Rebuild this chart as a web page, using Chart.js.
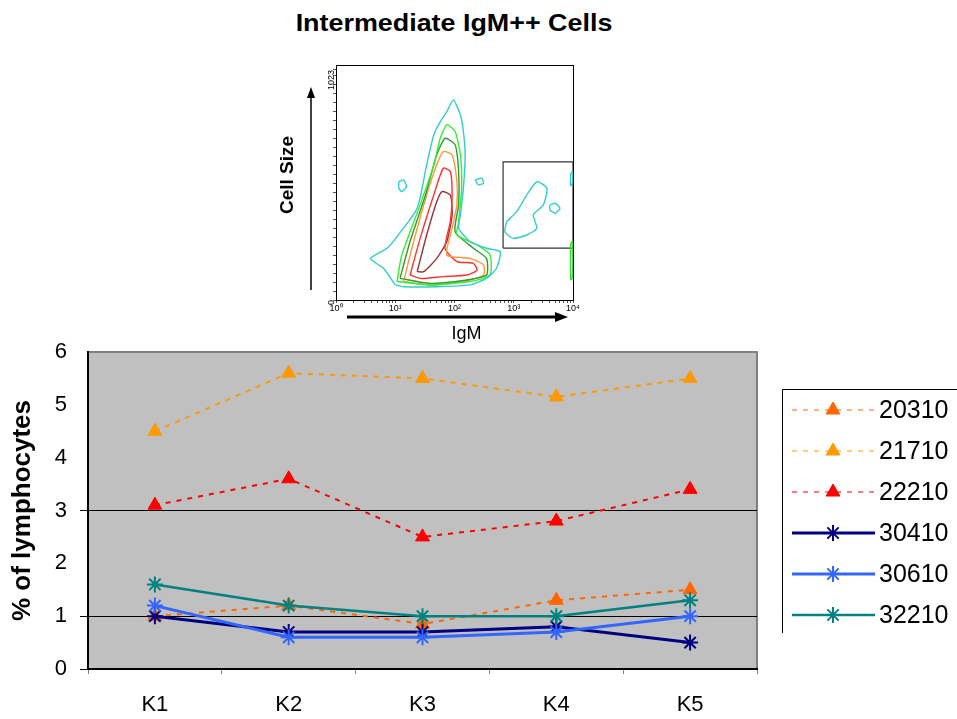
<!DOCTYPE html>
<html>
<head>
<meta charset="utf-8">
<script src="https://cdn.jsdelivr.net/npm/chart.js@4.4.1/dist/chart.umd.min.js"></script>
<style>
  html, body { margin: 0; padding: 0; background: #fff; }
  body { width: 957px; height: 719px; position: relative; overflow: hidden; font-family: "Liberation Sans", Arial, sans-serif; }
  #title { position: absolute; left: 0; width: 908px; top: 9px; text-align: center; font-weight: bold; font-size: 24px; transform: scaleX(1.12); }
  #main { position: absolute; left: 0; top: 0; }
  #facs { position: absolute; left: 250px; top: 55px; }
</style>
</head>
<body>
<div id="title">Intermediate IgM++ Cells</div>
<canvas id="main" width="957" height="719"></canvas>
<canvas id="facs" width="350" height="290"></canvas>
<script>
// line chart values (% of lymphocytes)
const categories = ['K1', 'K2', 'K3', 'K4', 'K5'];
const v20310 = [1.0, 1.2, 0.85, 1.3, 1.5];
const v21710 = [4.5, 5.6, 5.5, 5.15, 5.5];
const v22210 = [3.1, 3.6, 2.5, 2.8, 3.4];
const v30410 = [1.0, 0.7, 0.7, 0.8, 0.5];
const v30610 = [1.2, 0.6, 0.6, 0.7, 1.0];
const v32210 = [1.6, 1.2, 1.0, 1.0, 1.3];

// flow plot: x in decades of IgM, y = cell size channel
const facsXLabels = ['10\u2070', '10\u00b9', '10\u00b2', '10\u00b3', '10\u2074'];
const facsYLabels = ['0', '1023'];
const cCyan = [[1.0,67],[0.8,141],[0.58,185],[0.86,230],[1.03,282],[1.37,408],[1.53,601],[1.65,734],[1.76,793],[1.87,838],[1.98,890],[2.1,823],[2.15,749],[2.18,645],[2.15,497],[2.1,378],[2.07,319],[2.26,260],[2.54,230],[2.77,215],[2.71,141],[2.54,96],[2.26,67],[1.7,59],[1.14,59],[1.0,67]];
const cGreen = [[1.03,82],[1.11,200],[1.42,423],[1.65,601],[1.76,719],[1.87,779],[2.01,749],[2.1,645],[2.12,497],[2.07,349],[2.04,289],[2.38,245],[2.6,200],[2.6,111],[2.26,82],[1.59,67],[1.03,82]];
const cDarkGreen = [[1.08,96],[1.25,260],[1.51,467],[1.7,645],[1.84,719],[2.01,690],[2.07,571],[2.07,423],[2.01,304],[2.32,230],[2.54,185],[2.54,111],[2.21,89],[1.59,74],[1.08,96]];
const cOrange = [[1.14,82],[1.31,260],[1.53,467],[1.7,601],[1.81,660],[1.96,645],[2.04,526],[2.04,423],[1.96,319],[1.87,200],[2.26,185],[2.49,156],[2.49,111],[2.15,82],[1.59,67],[1.14,82]];
const cRed = [[1.25,111],[1.42,274],[1.65,467],[1.81,586],[1.93,571],[1.96,467],[1.93,349],[1.84,230],[2.04,171],[2.32,163],[2.38,133],[2.21,111],[1.81,104],[1.42,96],[1.25,111]];
const cDarkRed = [[1.37,126],[1.53,289],[1.7,437],[1.79,482],[1.93,467],[1.96,378],[1.87,260],[1.7,185],[1.48,126],[1.37,126]];
const cGateBlob = [[2.88,349],[3.05,393],[3.22,467],[3.39,526],[3.56,497],[3.5,423],[3.33,378],[3.39,319],[3.22,289],[2.99,274],[2.85,304],[2.88,349]];
const cGateDot = [[3.61,423],[3.7,430],[3.78,408],[3.7,386],[3.61,401],[3.61,423]];
const cLeftDot = [[1.06,526],[1.14,534],[1.19,504],[1.11,482],[1.06,497],[1.06,526]];
const cMidDot = [[2.35,534],[2.46,541],[2.49,519],[2.4,512],[2.35,534]];
const cEdgeHigh = [[3.96,560],[3.99,570],[3.99,520],[3.96,510],[3.96,560]];
const cEdgeLow = [[3.96,250],[3.99,260],[3.99,100],[3.96,90],[3.96,250]];
const gate = [[2.82,231],[4,231],[4,614],[2.82,614],[2.82,231]];

const fam = '"Liberation Sans", Arial, sans-serif';

const plotBg = {
  id: 'plotBg',
  beforeDraw(chart) {
    const { ctx, chartArea: a } = chart;
    ctx.save();
    ctx.fillStyle = '#C0C0C0';
    ctx.fillRect(a.left, a.top, a.right - a.left, a.bottom - a.top);
    ctx.strokeStyle = '#808080';
    ctx.lineWidth = 2;
    ctx.beginPath();
    ctx.moveTo(a.left, a.top);
    ctx.lineTo(a.right, a.top);
    ctx.lineTo(a.right, a.bottom);
    ctx.stroke();
    ctx.restore();
  }
};

const legendBox = {
  id: 'legendBox',
  afterDraw(chart) {
    const ctx = chart.ctx;
    ctx.save();
    ctx.strokeStyle = '#000';
    ctx.lineWidth = 1;
    ctx.beginPath();
    ctx.moveTo(782.5, 633);
    ctx.lineTo(782.5, 389.5);
    ctx.lineTo(960, 389.5);
    ctx.stroke();
    chart.data.datasets.forEach((ds, i) => {
      const y = 410 + i * 41;
      ctx.strokeStyle = ds.borderColor;
      ctx.lineWidth = ds.legendWidth;
      ctx.setLineDash(ds.borderDash || []);
      ctx.beginPath();
      ctx.moveTo(792, y);
      ctx.lineTo(875, y);
      ctx.stroke();
      ctx.setLineDash([]);
      ctx.fillStyle = ds.pointBackgroundColor;
      ctx.strokeStyle = ds.pointBorderColor;
      ctx.lineWidth = ds.pointBorderWidth;
      Chart.helpers.drawPoint(ctx, { pointStyle: ds.pointStyle, radius: ds.pointRadius, rotation: 0, borderWidth: ds.pointBorderWidth }, 833, y);
      ctx.fillStyle = '#000';
      ctx.font = '25px ' + fam;
      ctx.textAlign = 'left';
      ctx.textBaseline = 'middle';
      ctx.fillText(ds.label, 879, y + 1);
    });
    ctx.restore();
  }
};

function dashed(label, data, color, order) {
  return {
    label, data, order,
    borderColor: color, borderWidth: 2, borderDash: [5, 6], legendWidth: 1,
    pointStyle: 'triangle', pointRadius: 8,
    pointBackgroundColor: color, pointBorderColor: color, pointBorderWidth: 1
  };
}
function solid(label, data, color, width, order) {
  return {
    label, data, order,
    borderColor: color, borderWidth: width, legendWidth: width,
    pointStyle: 'star', pointRadius: 8,
    pointBackgroundColor: color, pointBorderColor: color, pointBorderWidth: 2
  };
}

const keyTicks = [0, 1, 3];

new Chart(document.getElementById('main'), {
  type: 'line',
  data: {
    labels: categories,
    datasets: [
      dashed('20310', v20310, '#FF6600', 6),
      dashed('21710', v21710, '#FF9900', 5),
      dashed('22210', v22210, '#FF0000', 4),
      solid('30410', v30410, '#000080', 3, 3),
      solid('30610', v30610, '#3366FF', 3, 2),
      solid('32210', v32210, '#008080', 2.5, 1)
    ]
  },
  options: {
    responsive: false,
    animation: false,
    layout: { padding: { top: 352, right: 200, bottom: 0, left: 0 } },
    plugins: { legend: { display: false }, tooltip: { enabled: false } },
    scales: {
      x: {
        offset: true,
        grid: { offset: true, drawOnChartArea: false, tickLength: 5, color: '#808080' },
        border: { color: '#000', width: 2 },
        ticks: { color: '#000', font: { size: 22, family: fam }, padding: 18 },
        afterFit: s => { s.height = 50; }
      },
      y: {
        min: 0, max: 6,
        ticks: { stepSize: 1, color: '#000', font: { size: 22, family: fam }, padding: 13 },
        grid: {
          color: c => (c.tick && (c.tick.value === 1 || c.tick.value === 3)) ? '#000' : 'rgba(0,0,0,0)',
          tickColor: c => (c.tick && keyTicks.includes(c.tick.value)) ? '#000' : 'rgba(0,0,0,0)',
          tickLength: 8, lineWidth: 1
        },
        border: { color: '#000', width: 2 },
        title: { display: true, text: '% of lymphocytes', color: '#000', font: { size: 26, weight: 'bold', family: fam }, padding: { top: 7 } },
        afterFit: s => { s.width = 88; }
      }
    }
  },
  plugins: [plotBg, legendBox]
});

// flow cytometry contour plot
const facsDeco = {
  id: 'facsDeco',
  afterDraw(chart) {
    const { ctx, chartArea: a } = chart;
    ctx.save();
    ctx.strokeStyle = '#000';
    ctx.lineWidth = 1;
    ctx.strokeRect(a.left + 0.5, a.top + 0.5, a.right - a.left, a.bottom - a.top);
    // vertical arrow
    const ax = a.left - 25;
    ctx.lineWidth = 1.5;
    ctx.beginPath();
    ctx.moveTo(ax, a.bottom - 10);
    ctx.lineTo(ax, a.top + 30);
    ctx.stroke();
    ctx.fillStyle = '#000';
    ctx.beginPath();
    ctx.moveTo(ax, a.top + 22);
    ctx.lineTo(ax - 4, a.top + 33);
    ctx.lineTo(ax + 4, a.top + 33);
    ctx.closePath();
    ctx.fill();
    // horizontal arrow
    const ay = a.bottom + 17;
    ctx.lineWidth = 3;
    ctx.beginPath();
    ctx.moveTo(a.left + 11, ay);
    ctx.lineTo(a.right - 16, ay);
    ctx.stroke();
    ctx.beginPath();
    ctx.moveTo(a.right - 5, ay);
    ctx.lineTo(a.right - 18, ay - 5);
    ctx.lineTo(a.right - 18, ay + 5);
    ctx.closePath();
    ctx.fill();
    // axis labels
    ctx.textAlign = 'center';
    ctx.textBaseline = 'middle';
    ctx.font = '18px ' + fam;
    ctx.fillText('IgM', (a.left + a.right) / 2 + 12, a.bottom + 34);
    ctx.translate(a.left - 48, a.top + 110);
    ctx.rotate(-Math.PI / 2);
    ctx.font = 'bold 19px ' + fam;
    ctx.fillText('Cell Size', 0, 0);
    ctx.restore();
  }
};

function contour(pts, color) {
  return {
    data: pts.map(p => ({ x: p[0], y: p[1] })),
    showLine: true, borderColor: color, borderWidth: 1.4, tension: 0.2,
    pointRadius: 0, fill: false
  };
}

const xMinor = [];
for (let d = 0; d < 4; d++) {
  xMinor.push(d);
  for (let m = 2; m < 10; m++) xMinor.push(d + Math.log10(m));
}
xMinor.push(4);
const yMinor = [];
for (let v = 0; v <= 1000; v += 40) yMinor.push(v);
yMinor.push(1023);

new Chart(document.getElementById('facs'), {
  type: 'scatter',
  data: {
    datasets: [
      contour(cCyan, '#33CCCC'),
      contour(cGateBlob, '#33CCCC'),
      contour(cGateDot, '#33CCCC'),
      contour(cLeftDot, '#33CCCC'),
      contour(cMidDot, '#33CCCC'),
      contour(cEdgeHigh, '#33CCCC'),
      contour(cEdgeLow, '#33DD33'),
      contour(cGreen, '#33EE33'),
      contour(cDarkGreen, '#339933'),
      contour(cOrange, '#FF9933'),
      contour(cRed, '#FF3333'),
      contour(cDarkRed, '#993333'),
      { data: gate.map(p => ({ x: p[0], y: p[1] })), showLine: true, borderColor: '#333', borderWidth: 1.2, pointRadius: 0, tension: 0 }
    ]
  },
  options: {
    responsive: false,
    animation: false,
    layout: { padding: { top: 10, right: 27, left: 72, bottom: 33 } },
    plugins: { legend: { display: false }, tooltip: { enabled: false } },
    scales: {
      x: {
        type: 'linear', min: 0, max: 4,
        afterBuildTicks: s => { s.ticks = xMinor.map(v => ({ value: v })); },
        ticks: {
          autoSkip: false, maxRotation: 0, color: '#000', padding: 0,
          font: { size: 9, family: fam },
          callback: v => Number.isInteger(v) ? facsXLabels[v] : ''
        },
        grid: { drawOnChartArea: false, tickLength: 3, color: '#555' },
        border: { color: '#000' },
        afterFit: s => { s.height = 12; }
      },
      y: {
        min: 0, max: 1045,
        afterBuildTicks: s => { s.ticks = yMinor.map(v => ({ value: v })); },
        ticks: {
          autoSkip: false, minRotation: 90, maxRotation: 90, color: '#000', padding: 1,
          font: { size: 9, family: fam },
          callback: v => v === 0 ? facsYLabels[0] : (v === 1023 ? facsYLabels[1] : '')
        },
        grid: { drawOnChartArea: false, tickLength: 3, color: '#555' },
        border: { color: '#000' },
        afterFit: s => { s.width = 14; }
      }
    }
  },
  plugins: [facsDeco]
});
</script>
</body>
</html>
